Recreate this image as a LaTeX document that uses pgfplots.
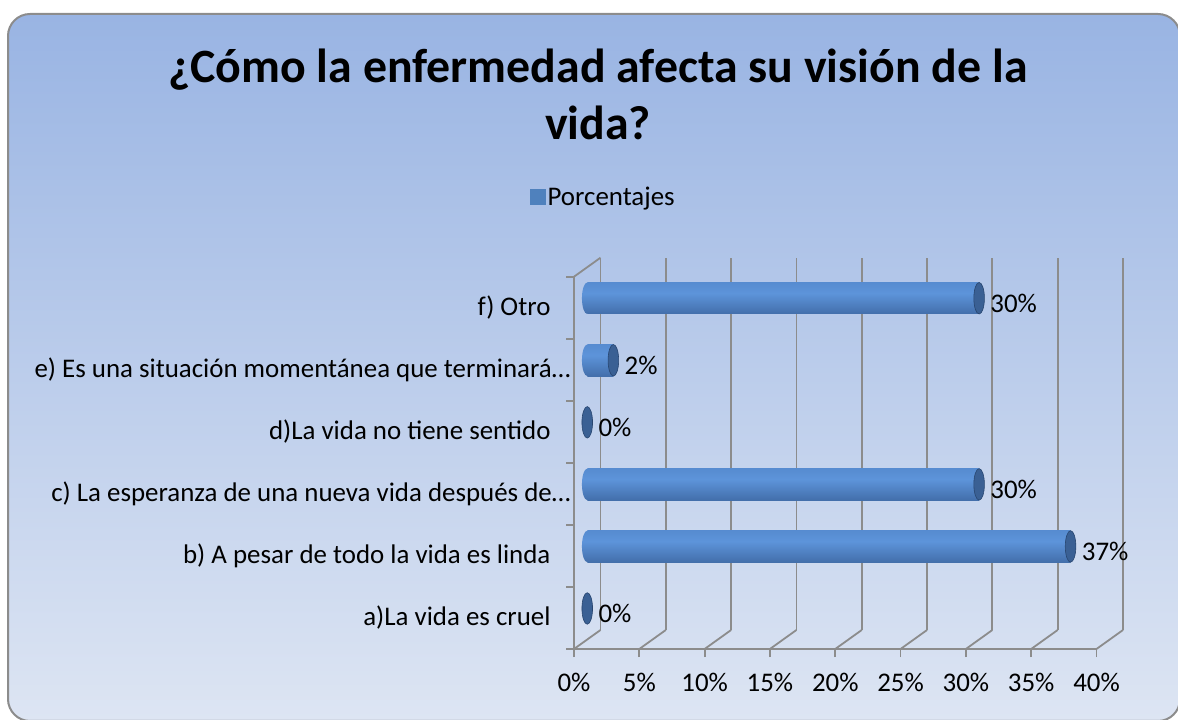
\documentclass[border=0pt]{standalone}
\usepackage{pgfplots}
\pgfplotsset{compat=1.18}
\usepackage{fontspec}
\setmainfont{Carlito}
\definecolor{bgtop}{HTML}{99B4E3}
\definecolor{bgbot}{HTML}{DDE5F3}
\definecolor{gridc}{HTML}{8C8C8C}
\definecolor{cA}{RGB}{33,60,102}
\definecolor{cB}{RGB}{58,98,155}
\definecolor{cC}{RGB}{93,148,218}
\definecolor{cD}{RGB}{82,134,202}
\definecolor{cE}{RGB}{66,110,172}
\definecolor{capc}{RGB}{58,96,148}
\definecolor{capdark}{RGB}{40,70,112}
\definecolor{legc}{HTML}{4F81BD}
\pgfdeclareverticalshading{cyl}{100bp}{color(0bp)=(cA); color(14bp)=(cB); color(58bp)=(cC); color(86bp)=(cD); color(100bp)=(cE)}
\pgfdeclareplotmark{cylend}{\pgfpathellipse{\pgfpointorigin}{\pgfqpoint{5.3bp}{0bp}}{\pgfqpoint{0bp}{15.75bp}}\pgfusepathqfillstroke}
\pgfdeclareplotmark{cylleft}{\pgfpathmoveto{\pgfqpoint{0.3bp}{15.75bp}}\pgfpathlineto{\pgfqpoint{0bp}{15.75bp}}\pgfpatharc{90}{270}{5.3bp and 15.75bp}\pgfpathlineto{\pgfqpoint{0.3bp}{-15.75bp}}\pgfpathclose\pgfshadepath{cyl}{0}\pgfusepath{discard}}
\begin{document}
\begin{tikzpicture}
\useasboundingbox (0,0) rectangle (1178bp,720bp);
\draw[line width=2bp, draw=gray!90, top color=bgtop, bottom color=bgbot, rounded corners=22bp] (8bp,-1bp) rectangle (1180bp,706bp);
\node[font=\fontsize{48}{58}\selectfont\bfseries, anchor=base, inner sep=0pt] at (598bp,637bp) {¿Cómo la enfermedad afecta su visión de la};
\node[font=\fontsize{48}{58}\selectfont\bfseries, anchor=base, inner sep=0pt] at (598bp,580bp) {vida?};
\begin{axis}[
  scale only axis, width=522.5bp, height=372.3bp,
  at={(574bp,71bp)}, anchor=south west,
  xmin=0, xmax=40, ymin=0, ymax=6,
  axis x line*=bottom, axis y line*=left,
  axis line style={gridc, line width=1.8bp},
  tick style={gridc, line width=1.8bp},
  major tick length=8bp, tick align=outside,
  xtick={0,5,...,40},
  xticklabels={0\%,5\%,10\%,15\%,20\%,25\%,30\%,35\%,40\%},
  xticklabel style={font=\fontsize{27}{32}\selectfont, black, yshift=-13bp},
  ytick={0,...,6}, yticklabels={},
  extra y ticks={0.5,1.5,2.5,3.5,4.5,5.5},
  extra y tick style={major tick length=0pt},
  extra y tick labels={a)La vida es cruel\rule{20bp}{0pt},b) A pesar de todo la vida es linda\rule{20bp}{0pt},c) La esperanza de una nueva vida después de…,d)La vida no tiene sentido\rule{20bp}{0pt},e) Es una situación momentánea que terminará…,f) Otro\rule{20bp}{0pt}},
  yticklabel style={font=\fontsize{27}{32}\selectfont, black},
  legend style={at={(-0.0842,1.2141)}, anchor=west, draw=none, fill=none, inner sep=0pt, font=\fontsize{27}{32}\selectfont},
  clip=false,
]
\addlegendimage{legend image code/.code={\fill[legc] (0bp,-7.5bp) rectangle (15bp,7.5bp);}}
\addlegendentry{Porcentajes}
\pgfplotsinvokeforeach{0,5,...,40}{
  \draw[gridc, line width=1.8bp] ([xshift=26.5bp,yshift=19bp]axis cs:#1,0) -- ([xshift=26.5bp,yshift=19bp]axis cs:#1,6);
  \draw[gridc, line width=1.8bp] (axis cs:#1,0) -- ([xshift=26.5bp,yshift=19bp]axis cs:#1,0);
}
\draw[gridc, line width=1.8bp] (axis cs:0,6) -- ([xshift=26.5bp,yshift=19bp]axis cs:0,6);
% cylinder bodies (one plot per bar so each bar gets its own shading)
\addplot[forget plot, xbar, bar shift=0pt, bar width=31.5bp, draw=none, shading=cyl, xshift=13.25bp, yshift=9.5bp] coordinates {(37,1.5)};
\addplot[forget plot, xbar, bar shift=0pt, bar width=31.5bp, draw=none, shading=cyl, xshift=13.25bp, yshift=9.5bp] coordinates {(30,2.5)};
\addplot[forget plot, xbar, bar shift=0pt, bar width=31.5bp, draw=none, shading=cyl, xshift=13.25bp, yshift=9.5bp] coordinates {(2,4.5)};
\addplot[forget plot, xbar, bar shift=0pt, bar width=31.5bp, draw=none, shading=cyl, xshift=13.25bp, yshift=9.5bp] coordinates {(30,5.5)};
% rounded left ends
\addplot[forget plot, only marks, mark=cylleft, xshift=13.25bp, yshift=9.5bp] coordinates {(0,5.5)(0,4.5)(0,2.5)(0,1.5)};
% end caps and value labels
\addplot[forget plot, only marks, mark=cylend, mark options={fill=capc, draw=capdark, line width=0.6bp}, xshift=13.25bp, yshift=9.5bp,
  nodes near coords, point meta=explicit symbolic,
  every node near coord/.style={anchor=west, font=\fontsize{27}{32}\selectfont, xshift=11bp, yshift=-5bp, inner sep=0pt, black}]
  coordinates {(0,0.5)[0\%] (37,1.5)[37\%] (30,2.5)[30\%] (0,3.5)[0\%] (2,4.5)[2\%] (30,5.5)[30\%]};
\end{axis}
\end{tikzpicture}
\end{document}
